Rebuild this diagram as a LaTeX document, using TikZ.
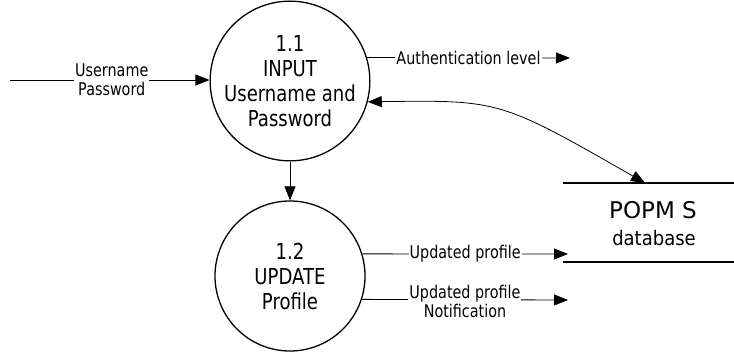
\documentclass[tikz,border=0pt]{standalone}
\usepackage{fontspec}
\setmainfont{DejaVu Sans}
\newfontfamily\condf[FakeStretch=0.82]{DejaVu Sans}
\newfontfamily\semif[FakeStretch=0.9]{DejaVu Sans}
\usetikzlibrary{arrows.meta}
\begin{document}
\begin{tikzpicture}[x=1pt,y=-1pt,
  proc/.style={circle,draw,line width=1.3pt,align=center,font=\condf\fontsize{22}{25}\selectfont,inner sep=0pt},
  flow/.style={line width=0.8pt,-{Triangle[length=14pt,width=11pt]}},
  lbl/.style={fill=white,inner sep=1pt,align=center,font=\condf\fontsize{17.5}{19}\selectfont},
  store/.style={line width=1.3pt}]
\useasboundingbox (0,0) rectangle (734,355);
\node[proc,minimum size=152pt] (c1) at (290,81) {1.1\\INPUT\\Username and\\Password};
\node[proc,minimum size=150pt] (c2) at (290,276) {1.2\\UPDATE\\Profile};
\coordinate (in) at (10,80);
\coordinate (authEnd) at (570,58);
\coordinate (upEnd) at (568,254);
\coordinate (notEnd) at (568,300);
\coordinate (dbTopL) at (563,183);
\coordinate (dbTopR) at (734,183);
\coordinate (dbBotL) at (563,262);
\coordinate (dbBotR) at (734,262);
\coordinate (dbIn) at (645,183);
\node[font=\fontsize{23}{26}\selectfont] (db1) at (653,210) {POPM S};
\node[font=\semif\fontsize{20}{22}\selectfont] (db2) at (654,238) {database};
\draw[store] (dbTopL) -- (dbTopR);
\draw[store] (dbBotL) -- (dbBotR);
\draw[flow] (in) -- (c1.west |- in) node[lbl,pos=0.5,xshift=2pt] {Username\\Password};
\draw[flow] (c1.17.6) -- (authEnd) node[lbl,pos=0.5] {Authentication level};
\draw[line width=0.8pt,{Triangle[length=14pt,width=11pt]}-{Triangle[length=14pt,width=11pt]}] (c1.-15) .. controls (500,100) .. (dbIn);
\draw[flow] (c1) -- (c2);
\draw[flow] (c2.17) -- (upEnd) node[lbl,pos=0.5] {Updated profile};
\draw[flow] (c2.-18.7) -- (notEnd) node[lbl,pos=0.5,yshift=-2pt] {Updated profile\\Notification};
\end{tikzpicture}
\end{document}
